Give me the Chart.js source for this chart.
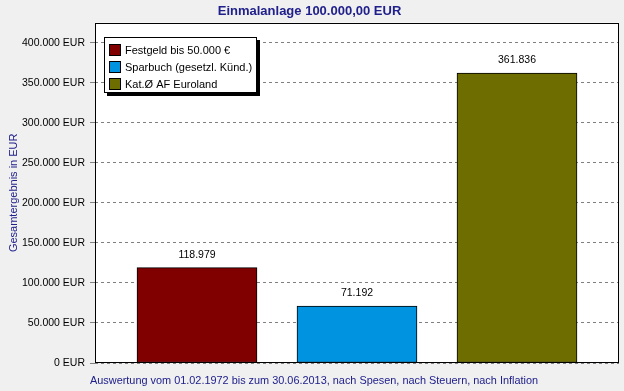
<!DOCTYPE html>
<html>
<head>
<meta charset="utf-8">
<script src="https://cdn.jsdelivr.net/npm/chart.js@4"></script>
<style>
    body { margin: 0; background: #f0f0f0; }
    canvas { display: block; }
</style>
</head>
<body>
<canvas id="chart" width="624" height="391"></canvas>
<script>
const categories = ['Festgeld bis 50.000 €', 'Sparbuch (gesetzl. Künd.)', 'Kat.Ø AF Euroland'];
const values = [118979, 71192, 361836];
const yTicks = [0, 50000, 100000, 150000, 200000, 250000, 300000, 350000, 400000];

const chartTitle = 'Einmalanlage 100.000,00 EUR';
const yTitle = 'Gesamtergebnis in EUR';
const footNote = 'Auswertung vom 01.02.1972 bis zum 30.06.2013, nach Spesen, nach Steuern, nach Inflation';

const FONT = 'Liberation Sans, Arial, sans-serif';
const NAVY = '#20208c';

const fmt = (v) => String(Math.round(v)).replace(/\B(?=(\d{3})+(?!\d))/g, '.');

// plot background, frame, value labels, legend box and footnote
const extras = {
    id: 'extras',
    beforeDraw(chart) {
        const { ctx, chartArea: a } = chart;
        ctx.save();
        ctx.fillStyle = '#ffffff';
        ctx.fillRect(a.left, a.top, a.right - a.left, a.bottom - a.top);
        ctx.restore();
    },
    afterDraw(chart) {
        const { ctx, chartArea: a } = chart;
        const ds = chart.data.datasets[0];
        ctx.save();

        // frame
        ctx.strokeStyle = '#000';
        ctx.lineWidth = 1;
        ctx.strokeRect(Math.round(a.left) + 0.5, Math.round(a.top) + 0.5,
            Math.round(a.right - a.left) - 1, Math.round(a.bottom - a.top) - 1);

        // value labels
        ctx.font = '10.5px ' + FONT;
        ctx.fillStyle = '#000';
        ctx.textAlign = 'center';
        ctx.textBaseline = 'middle';
        chart.getDatasetMeta(0).data.forEach((bar, i) => {
            ctx.fillText(fmt(values[i]), bar.x, bar.y - 13);
        });

        // legend
        const lx = 104, ly = 37, lw = 153, lh = 56;
        ctx.font = '11px ' + FONT;
        ctx.fillStyle = '#000';
        ctx.fillRect(lx + 3, ly + 3, lw, lh);
        ctx.fillStyle = '#fff';
        ctx.fillRect(lx, ly, lw, lh);
        ctx.strokeRect(lx + 0.5, ly + 0.5, lw - 1, lh - 1);
        ctx.textAlign = 'left';
        categories.forEach((c, i) => {
            const y = ly + 7 + i * 17;
            ctx.fillStyle = ds.backgroundColor[i];
            ctx.fillRect(lx + 5, y, 12, 12);
            ctx.strokeStyle = '#000';
            ctx.strokeRect(lx + 5.5, y + 0.5, 11, 11);
            ctx.fillStyle = '#000';
            ctx.fillText(c, lx + 21, y + 6.5);
        });

        // footnote
        ctx.font = '10.9px ' + FONT;
        ctx.fillStyle = NAVY;
        ctx.fillText(footNote, 90, 381);
        ctx.restore();
    }
};

new Chart(document.getElementById('chart'), {
    type: 'bar',
    data: {
        datasets: [{
            data: values.map((v, i) => ({ x: i, y: v })),
            backgroundColor: ['#800000', '#0093e0', '#6e6e00'],
            borderColor: '#000',
            borderWidth: 1,
            borderSkipped: false,
            barThickness: 120
        }]
    },
    options: {
        responsive: false,
        devicePixelRatio: 1,
        animation: false,
        layout: { padding: { top: 0, right: 5, bottom: 28, left: 0 } },
        plugins: {
            legend: { display: false },
            tooltip: { enabled: false },
            title: {
                display: true,
                text: chartTitle,
                color: NAVY,
                font: { family: FONT, size: 13, weight: 'bold' },
                padding: { top: 4, bottom: 3 }
            }
        },
        scales: {
            x: {
                type: 'linear',
                display: false,
                offset: false,
                min: -0.6375,
                max: 2.6375
            },
            y: {
                min: 0,
                max: 425000,
                afterBuildTicks: (scale) => { scale.ticks = yTicks.map(v => ({ value: v })); },
                afterFit: (scale) => { scale.width = 95; },
                ticks: {
                    color: '#000',
                    padding: 5,
                    font: { family: FONT, size: 10.5 },
                    callback: (v) => fmt(v) + ' EUR'
                },
                grid: {
                    color: '#808080',
                    tickLength: 5
                },
                border: { display: false, dash: [3, 3] },
                title: {
                    display: true,
                    text: yTitle,
                    color: NAVY,
                    font: { family: FONT, size: 11 },
                    padding: { top: 7, bottom: 0 }
                }
            }
        }
    },
    plugins: [extras]
});
</script>
</body>
</html>
